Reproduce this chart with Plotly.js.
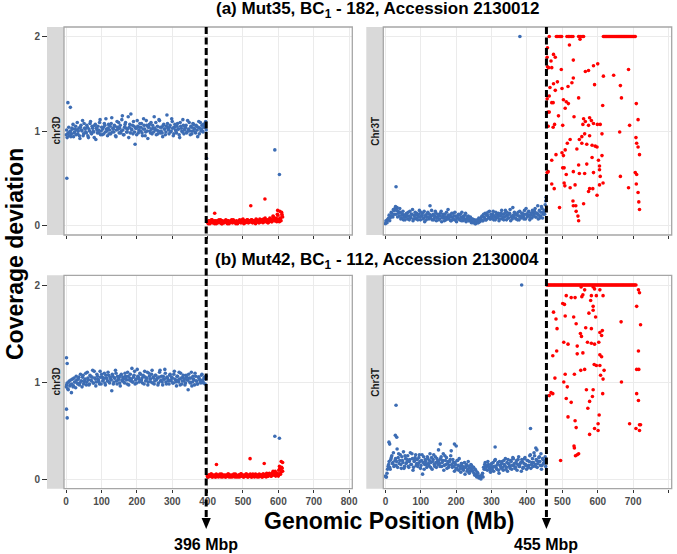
<!DOCTYPE html>
<html>
<head>
<meta charset="utf-8">
<script src="https://cdn.plot.ly/plotly-3.0.1.min.js"></script>
<style>
  html, body { margin: 0; padding: 0; background: #ffffff; }
  #chart { width: 677px; height: 554px; }
</style>
</head>
<body>
<div id="chart"></div>
<script>
// ---------------------------------------------------------------
// Coverage deviation along chromosome 3D (wheat) and 3T (Ae. mutica)
// for two BC1 lines. Bins are positions in Mb.
// ---------------------------------------------------------------

// translocation breakpoints (Mb)
const breakChr3D = 396;
const breakChr3T = 455;

// bin positions, chr3D, 0–396 Mb (two interleaved bin sets)
const binsChr3DLeft = [0,3,6,9,12,15,18,21,24,27,30,33,36,39,42,45,48,51,54,57,60,63,66,69,72,75,78,81,84,87,90,93,96,99,102,105,108,111,114,117,120,123,126,129,132,135,138,141,144,147,150,153,156,159,162,165,168,171,174,177,180,183,186,189,192,195,198,201,204,207,210,213,216,219,222,225,228,231,234,237,240,243,246,249,252,255,258,261,264,267,270,273,276,279,282,285,288,291,294,297,300,303,306,309,312,315,318,321,324,327,330,333,336,339,342,345,348,351,354,357,360,363,366,369,372,375,378,381,384,387,390,393,396];
const binsChr3DLeftB = [1.5,4.5,7.5,10.5,13.5,16.5,19.5,22.5,25.5,28.5,31.5,34.5,37.5,40.5,43.5,46.5,49.5,52.5,55.5,58.5,61.5,64.5,67.5,70.5,73.5,76.5,79.5,82.5,85.5,88.5,91.5,94.5,97.5,100.5,103.5,106.5,109.5,112.5,115.5,118.5,121.5,124.5,127.5,130.5,133.5,136.5,139.5,142.5,145.5,148.5,151.5,154.5,157.5,160.5,163.5,166.5,169.5,172.5,175.5,178.5,181.5,184.5,187.5,190.5,193.5,196.5,199.5,202.5,205.5,208.5,211.5,214.5,217.5,220.5,223.5,226.5,229.5,232.5,235.5,238.5,241.5,244.5,247.5,250.5,253.5,256.5,259.5,262.5,265.5,268.5,271.5,274.5,277.5,280.5,283.5,286.5,289.5,292.5,295.5,298.5,301.5,304.5,307.5,310.5,313.5,316.5,319.5,322.5,325.5,328.5,331.5,334.5,337.5,340.5,343.5,346.5,349.5,352.5,355.5,358.5,361.5,364.5,367.5,370.5,373.5,376.5,379.5,382.5,385.5,388.5,391.5,394.5];
// bin positions, chr3D, 399–612 Mb
const binsChr3DRight = [399,402,405,408,411,414,417,420,423,426,429,432,435,438,441,444,447,450,453,456,459,462,465,468,471,474,477,480,483,486,489,492,495,498,501,504,507,510,513,516,519,522,525,528,531,534,537,540,543,546,549,552,555,558,561,564,567,570,573,576,579,582,585,588,591,594,597,600,603,606,609,612];
const binsChr3DRightB = [400.5,403.5,406.5,409.5,412.5,415.5,418.5,421.5,424.5,427.5,430.5,433.5,436.5,439.5,442.5,445.5,448.5,451.5,454.5,457.5,460.5,463.5,466.5,469.5,472.5,475.5,478.5,481.5,484.5,487.5,490.5,493.5,496.5,499.5,502.5,505.5,508.5,511.5,514.5,517.5,520.5,523.5,526.5,529.5,532.5,535.5,538.5,541.5,544.5,547.5,550.5,553.5,556.5,559.5,562.5,565.5,568.5,571.5,574.5,577.5,580.5,583.5,586.5,589.5,592.5,595.5,598.5,601.5,604.5,607.5,610.5];
// bin positions, Chr3T, 0–453 Mb
const binsChr3TLeft = [0,3,6,9,12,15,18,21,24,27,30,33,36,39,42,45,48,51,54,57,60,63,66,69,72,75,78,81,84,87,90,93,96,99,102,105,108,111,114,117,120,123,126,129,132,135,138,141,144,147,150,153,156,159,162,165,168,171,174,177,180,183,186,189,192,195,198,201,204,207,210,213,216,219,222,225,228,231,234,237,240,243,246,249,252,255,258,261,264,267,270,273,276,279,282,285,288,291,294,297,300,303,306,309,312,315,318,321,324,327,330,333,336,339,342,345,348,351,354,357,360,363,366,369,372,375,378,381,384,387,390,393,396,399,402,405,408,411,414,417,420,423,426,429,432,435,438,441,444,447,450,453];
const binsChr3TLeftB = [1.5,4.5,7.5,10.5,13.5,16.5,19.5,22.5,25.5,28.5,31.5,34.5,37.5,40.5,43.5,46.5,49.5,52.5,55.5,58.5,61.5,64.5,67.5,70.5,73.5,76.5,79.5,82.5,85.5,88.5,91.5,94.5,97.5,100.5,103.5,106.5,109.5,112.5,115.5,118.5,121.5,124.5,127.5,130.5,133.5,136.5,139.5,142.5,145.5,148.5,151.5,154.5,157.5,160.5,163.5,166.5,169.5,172.5,175.5,178.5,181.5,184.5,187.5,190.5,193.5,196.5,199.5,202.5,205.5,208.5,211.5,214.5,217.5,220.5,223.5,226.5,229.5,232.5,235.5,238.5,241.5,244.5,247.5,250.5,253.5,256.5,259.5,262.5,265.5,268.5,271.5,274.5,277.5,280.5,283.5,286.5,289.5,292.5,295.5,298.5,301.5,304.5,307.5,310.5,313.5,316.5,319.5,322.5,325.5,328.5,331.5,334.5,337.5,340.5,343.5,346.5,349.5,352.5,355.5,358.5,361.5,364.5,367.5,370.5,373.5,376.5,379.5,382.5,385.5,388.5,391.5,394.5,397.5,400.5,403.5,406.5,409.5,412.5,415.5,418.5,421.5,424.5,427.5,430.5,433.5,436.5,439.5,442.5,445.5,448.5,451.5];

// ---------------- (a) Mut35 ----------------
const mut35Chr3DBlue = [0.96,0.93,0.98,0.95,1.00,0.97,1.02,0.94,0.99,1.05,1.01,0.97,1.03,0.92,1.06,1.00,0.95,1.08,1.02,0.98,1.04,0.93,1.00,1.10,0.97,1.03,0.99,1.06,0.91,1.01,1.05,0.98,1.12,1.00,0.96,1.04,1.08,0.99,1.02,0.95,1.07,1.01,0.97,1.14,1.03,0.99,1.05,0.94,1.10,1.02,0.98,1.06,1.00,1.16,0.96,1.04,1.09,0.99,1.02,0.93,1.07,1.18,1.01,0.97,1.05,0.86,1.03,1.11,0.98,1.04,1.00,1.08,0.95,1.13,1.02,0.99,1.06,0.92,1.04,1.00,1.09,0.97,1.03,1.15,1.01,0.96,1.05,1.00,1.11,0.98,1.04,0.94,1.07,1.02,0.99,1.17,1.03,0.97,1.06,1.00,1.10,0.95,1.04,1.01,0.98,1.08,1.02,0.93,1.05,1.00,1.12,0.97,1.03,1.06,0.99,1.01,1.09,0.96,1.04,1.00,1.07,1.02,0.98,1.05,0.94,1.10,1.03,1.00,1.06,0.99,1.04,1.08,1.01];
const mut35Chr3DBlueB = [1.01,0.97,1.04,0.99,0.94,1.03,1.07,0.98,1.02,0.96,1.09,1.00,0.95,1.04,1.01,1.11,0.97,1.03,0.99,1.06,0.95,1.02,1.08,0.98,1.05,1.00,0.93,1.07,1.03,0.98,1.01,1.09,0.96,1.04,1.02,0.97,1.06,1.13,1.00,1.03,0.97,1.05,1.08,0.99,1.02,1.06,0.95,1.01,1.04,1.09,1.03,0.98,1.12,1.01,0.96,1.07,1.03,0.99,1.15,1.04,0.98,1.02,1.06,1.10,0.99,1.03,0.96,1.05,1.01,1.08,1.04,0.98,1.02,1.06,0.95,1.11,1.00,1.04,1.07,0.98,1.02,1.06,0.99,1.03,1.09,1.01,0.97,1.12,1.04,1.00,0.98,1.06,1.02,0.96,1.05,1.08,1.01,1.04,0.99,1.13,1.03,0.97,1.07,1.00,1.05,1.02,0.96,1.09,1.03,0.99,1.06,1.01,1.04,0.98,1.11,1.02,1.00,1.05,0.97,1.08,1.03,0.99,1.06,1.01,1.04,0.97,1.09,1.02,1.00,1.07,1.04,1.10];
const mut35Chr3DBlueExtraX = [2,5,12,397,590,603];
const mut35Chr3DBlueExtraY = [0.50,1.30,1.25,0.71,0.80,0.54];
const mut35Chr3DRed = [0.04,0.02,0.05,0.03,0.06,0.03,0.04,0.02,0.05,0.03,0.04,0.06,0.03,0.05,0.02,0.04,0.03,0.05,0.04,0.02,0.05,0.03,0.04,0.06,0.03,0.05,0.04,0.02,0.04,0.03,0.05,0.04,0.03,0.06,0.04,0.05,0.03,0.04,0.06,0.03,0.05,0.04,0.06,0.03,0.05,0.04,0.07,0.04,0.05,0.03,0.06,0.04,0.05,0.07,0.04,0.06,0.05,0.03,0.06,0.08,0.05,0.04,0.10,0.06,0.05,0.08,0.12,0.06,0.04,0.07,0.14,0.09];
const mut35Chr3DRedB = [0.03,0.05,0.02,0.04,0.06,0.03,0.05,0.04,0.02,0.05,0.03,0.04,0.06,0.02,0.05,0.03,0.04,0.06,0.03,0.05,0.02,0.04,0.05,0.03,0.06,0.04,0.03,0.05,0.02,0.04,0.06,0.03,0.05,0.04,0.02,0.05,0.04,0.06,0.03,0.05,0.04,0.06,0.03,0.05,0.04,0.02,0.06,0.05,0.03,0.07,0.04,0.06,0.03,0.05,0.08,0.04,0.06,0.03,0.05,0.07,0.04,0.06,0.09,0.05,0.07,0.04,0.11,0.06,0.08,0.05,0.10];
const mut35Chr3DRedExtraX = [420,500,522,562,585,598,604,610];
const mut35Chr3DRedExtraY = [0.13,0.07,0.21,0.28,0.09,0.16,0.15,0.12];

const mut35Chr3TBlue = [0.02,0.04,0.06,0.08,0.05,0.10,0.13,0.09,0.16,0.18,0.12,0.19,0.15,0.10,0.14,0.08,0.12,0.06,0.11,0.09,0.13,0.07,0.10,0.15,0.08,0.12,0.05,0.10,0.14,0.07,0.11,0.09,0.16,0.06,0.10,0.13,0.08,0.04,0.11,0.09,0.14,0.07,0.21,0.10,0.06,0.12,0.08,0.15,0.05,0.09,0.11,0.07,0.13,0.04,0.10,0.08,0.12,0.06,0.09,0.17,0.07,0.11,0.05,0.09,0.13,0.06,0.10,0.04,0.08,0.12,0.06,0.09,0.14,0.05,0.08,0.11,0.04,0.07,0.10,0.05,0.09,0.03,0.07,0.04,0.06,0.02,0.05,0.03,0.08,0.04,0.07,0.10,0.05,0.09,0.13,0.06,0.11,0.08,0.15,0.07,0.10,0.12,0.06,0.09,0.14,0.08,0.11,0.05,0.10,0.13,0.07,0.12,0.09,0.16,0.06,0.11,0.08,0.13,0.05,0.10,0.19,0.09,0.12,0.07,0.11,0.14,0.06,0.10,0.08,0.13,0.09,0.16,0.07,0.12,0.10,0.15,0.06,0.11,0.08,0.14,0.12,0.18,0.09,0.13,0.07,0.16,0.10,0.20,0.08,0.14,0.12,0.26];
const mut35Chr3TBlueB = [0.05,0.03,0.07,0.11,0.08,0.14,0.10,0.17,0.12,0.20,0.16,0.09,0.13,0.18,0.07,0.11,0.15,0.09,0.06,0.12,0.10,0.14,0.06,0.09,0.12,0.17,0.07,0.11,0.08,0.13,0.06,0.12,0.09,0.14,0.11,0.07,0.15,0.10,0.06,0.13,0.09,0.12,0.08,0.16,0.11,0.06,0.10,0.13,0.08,0.12,0.06,0.10,0.15,0.08,0.12,0.05,0.09,0.14,0.07,0.11,0.09,0.05,0.13,0.07,0.10,0.14,0.06,0.09,0.11,0.07,0.12,0.05,0.08,0.10,0.06,0.13,0.07,0.09,0.05,0.08,0.05,0.07,0.03,0.05,0.02,0.04,0.06,0.03,0.05,0.07,0.09,0.05,0.12,0.08,0.06,0.11,0.14,0.09,0.07,0.12,0.08,0.15,0.10,0.06,0.12,0.09,0.13,0.07,0.11,0.16,0.09,0.06,0.13,0.10,0.14,0.08,0.12,0.17,0.09,0.07,0.11,0.14,0.08,0.12,0.06,0.10,0.15,0.09,0.13,0.11,0.07,0.12,0.18,0.09,0.14,0.11,0.08,0.13,0.16,0.10,0.15,0.09,0.13,0.21,0.11,0.08,0.14,0.18,0.12,0.16,0.22];
const mut35Chr3TBlueExtraX = [30,380,454];
const mut35Chr3TBlueExtraY = [0.41,2.00,0.30];
// bins at the coverage ceiling (2)
const mut35Chr3TCapX = [463,483,487,491,495,498,513,517,521,525,530,546,550,556,560,616,619,622,625,628,631,634,637,640,643,646,649,652,655,658,661,664,667,670,673,676,679,682,685,688,691,694,697,700,703,706];
const mut35Chr3TRedX = [458,475,480,468,461,470,520,531,497,588,600,574,565,616,687,645,531,527,516,486,475,465,499,480,591,664,503,511,517,546,667,463,470,474,508,614,709,463,489,533,560,577,565,582,558,574,588,599,607,478,474,501,690,714,662,612,708,710,714,718,555,563,577,548,522,514,569,584,593,598,541,555,508,503,482,499,470,584,612,546,569,602,501,505,548,563,588,605,605,531,607,511,664,706,710,460,470,505,507,536,577,586,605,615,477,522,687,709,714,598,574,560,530,531,538,492,718,539,544,546,716,457,458,457,459,457,460,550];
const mut35Chr3TRedY = [1.88,1.81,1.78,1.74,1.67,1.67,1.91,1.75,1.65,1.69,1.71,1.64,1.63,1.58,1.65,1.59,1.56,1.51,1.47,1.52,1.50,1.46,1.45,1.43,1.49,1.48,1.33,1.31,1.29,1.35,1.35,1.37,1.30,1.30,1.24,1.27,1.29,1.20,1.16,1.15,1.13,1.14,1.10,1.11,1.07,1.06,1.08,1.07,1.07,1.07,1.04,1.06,1.06,1.12,0.99,0.97,0.93,0.87,0.83,0.75,0.94,0.97,0.95,0.91,0.91,0.87,0.86,0.85,0.84,0.83,0.81,0.87,0.80,0.74,0.75,0.77,0.69,0.72,0.74,0.64,0.65,0.69,0.61,0.61,0.55,0.55,0.56,0.63,0.59,0.57,0.52,0.54,0.52,0.56,0.54,0.57,0.44,0.45,0.42,0.43,0.39,0.39,0.43,0.45,0.39,0.40,0.40,0.44,0.35,0.32,0.36,0.23,0.26,0.21,0.21,0.19,0.17,0.15,0.10,0.05,0.25,1.78,1.68,1.34,1.20,0.56,1.05,1.97];

// ---------------- (b) Mut42 ----------------
const mut42Chr3DBlue = [0.95,0.99,0.92,1.01,0.97,0.89,1.03,0.96,1.00,0.94,1.02,0.98,1.05,0.99,1.01,0.95,1.07,1.00,1.03,0.97,1.10,1.02,0.98,1.06,1.01,1.12,0.99,1.04,0.96,1.08,1.03,1.00,1.11,0.98,1.05,1.02,1.09,0.97,1.04,1.01,1.07,0.99,1.03,0.91,1.06,1.00,1.04,1.09,0.98,1.02,1.05,0.96,1.08,1.01,1.03,0.99,1.06,1.02,1.10,0.97,1.04,1.01,1.14,1.00,1.07,0.98,1.03,1.13,1.05,1.00,1.08,1.02,0.99,1.06,1.11,1.01,1.04,0.97,1.09,1.03,1.00,1.12,1.05,0.98,1.07,1.02,1.04,0.99,1.10,1.01,1.06,0.97,1.03,1.13,1.00,1.05,1.02,0.98,1.08,1.01,1.04,0.99,1.11,1.02,0.96,1.06,1.00,1.03,1.09,0.98,1.05,1.01,0.97,1.07,1.02,0.92,1.04,0.99,1.10,1.00,1.03,0.97,1.06,1.01,0.98,1.05,1.02,0.99,1.08,1.00,1.04,0.98,1.06];
const mut42Chr3DBlueB = [0.97,0.93,1.00,0.96,1.02,0.98,0.95,1.04,1.00,1.06,0.99,1.03,0.97,1.08,1.01,1.05,0.98,1.02,1.09,1.00,1.04,0.97,1.07,1.02,1.05,0.99,1.11,1.03,1.00,1.06,1.02,0.98,1.05,1.08,1.01,1.04,0.99,1.07,1.03,1.10,1.00,1.05,1.02,1.08,0.98,1.04,1.12,1.01,1.06,1.03,0.99,1.07,1.02,1.05,1.00,1.09,1.04,0.98,1.06,1.02,1.08,1.03,1.00,1.05,1.11,1.02,0.99,1.06,1.03,1.09,1.01,1.04,1.07,0.98,1.05,1.02,1.10,1.00,1.06,1.03,1.08,0.99,1.04,1.01,1.07,1.03,0.97,1.05,1.12,1.02,1.00,1.06,1.03,1.09,0.98,1.04,1.01,1.07,1.02,1.05,0.99,1.08,1.03,1.00,1.06,1.02,1.10,0.97,1.04,1.01,1.07,1.03,0.99,1.05,1.02,1.08,1.00,1.04,0.96,1.06,1.02,1.09,1.01,0.98,1.05,1.03,1.00,1.07,1.02,0.99,1.05,1.03];
const mut42Chr3DBlueExtraX = [1,3,1,3,590,603];
const mut42Chr3DBlueExtraY = [1.25,1.19,0.72,0.63,0.44,0.42];
const mut42Chr3DRed = [0.03,0.02,0.04,0.03,0.05,0.02,0.03,0.04,0.02,0.03,0.04,0.03,0.05,0.02,0.03,0.04,0.03,0.02,0.04,0.03,0.05,0.03,0.02,0.04,0.03,0.05,0.02,0.04,0.03,0.02,0.04,0.03,0.05,0.03,0.02,0.04,0.03,0.05,0.02,0.04,0.03,0.04,0.02,0.05,0.03,0.04,0.03,0.02,0.04,0.05,0.03,0.04,0.02,0.05,0.03,0.04,0.06,0.03,0.05,0.04,0.03,0.06,0.04,0.05,0.08,0.04,0.06,0.03,0.10,0.05,0.12,0.08];
const mut42Chr3DRedB = [0.02,0.04,0.03,0.05,0.02,0.04,0.03,0.02,0.05,0.03,0.02,0.04,0.03,0.05,0.02,0.03,0.04,0.02,0.03,0.05,0.02,0.04,0.03,0.02,0.04,0.03,0.05,0.02,0.03,0.04,0.02,0.05,0.03,0.04,0.02,0.03,0.05,0.04,0.02,0.03,0.05,0.02,0.04,0.03,0.02,0.05,0.03,0.04,0.02,0.03,0.04,0.02,0.05,0.03,0.04,0.02,0.05,0.03,0.06,0.04,0.03,0.05,0.07,0.04,0.03,0.06,0.04,0.09,0.05,0.07,0.11];
const mut42Chr3DRedExtraX = [425,495,520,560,585,603,605,608,612];
const mut42Chr3DRedExtraY = [0.15,0.05,0.21,0.16,0.08,0.13,0.10,0.18,0.17];

const mut42Chr3TBlue = [0.03,0.02,0.10,0.15,0.12,0.20,0.24,0.17,0.13,0.19,0.14,0.31,0.22,0.16,0.25,0.11,0.19,0.28,0.13,0.21,0.17,0.24,0.12,0.20,0.15,0.26,0.09,0.18,0.22,0.14,0.20,0.16,0.25,0.11,0.19,0.05,0.23,0.15,0.18,0.12,0.21,0.14,0.26,0.17,0.10,0.20,0.15,0.23,0.12,0.18,0.30,0.16,0.21,0.13,0.19,0.09,0.24,0.15,0.11,0.18,0.14,0.20,0.29,0.12,0.17,0.08,0.15,0.11,0.19,0.09,0.13,0.07,0.16,0.10,0.12,0.05,0.14,0.08,0.18,0.06,0.11,0.14,0.08,0.12,0.04,0.09,0.02,0.06,0.01,0.03,0.00,0.04,0.02,0.10,0.17,0.13,0.09,0.15,0.11,0.07,0.16,0.12,0.08,0.19,0.13,0.10,0.17,0.06,0.14,0.11,0.18,0.09,0.15,0.21,0.12,0.08,0.16,0.13,0.19,0.10,0.22,0.14,0.11,0.17,0.09,0.20,0.13,0.16,0.08,0.18,0.12,0.21,0.15,0.10,0.19,0.14,0.24,0.11,0.17,0.13,0.27,0.15,0.20,0.12,0.18,0.23,0.14,0.10,0.21,0.16,0.19,0.13];
const mut42Chr3TBlueB = [0.02,0.06,0.13,0.18,0.10,0.22,0.16,0.27,0.14,0.21,0.18,0.12,0.26,0.19,0.15,0.23,0.17,0.11,0.24,0.16,0.20,0.13,0.18,0.27,0.15,0.21,0.12,0.19,0.25,0.16,0.13,0.22,0.18,0.14,0.25,0.17,0.10,0.20,0.15,0.23,0.16,0.19,0.12,0.22,0.18,0.25,0.13,0.17,0.21,0.15,0.19,0.13,0.23,0.17,0.26,0.14,0.19,0.22,0.16,0.12,0.18,0.24,0.15,0.20,0.13,0.17,0.10,0.19,0.14,0.21,0.11,0.16,0.13,0.09,0.17,0.12,0.15,0.10,0.13,0.08,0.15,0.09,0.12,0.06,0.10,0.04,0.07,0.03,0.02,0.01,0.03,0.06,0.12,0.15,0.10,0.14,0.18,0.12,0.09,0.14,0.10,0.17,0.13,0.20,0.11,0.15,0.09,0.18,0.13,0.16,0.12,0.19,0.14,0.10,0.17,0.20,0.15,0.11,0.18,0.14,0.21,0.16,0.12,0.19,0.15,0.23,0.13,0.17,0.20,0.11,0.16,0.22,0.14,0.19,0.12,0.18,0.25,0.15,0.21,0.17,0.24,0.13,0.19,0.16,0.22,0.18,0.26,0.14,0.20,0.17,0.23];
const mut42Chr3TBlueExtraX = [10,12,28,30,32,155,195,200,310,385,410,425,428];
const mut42Chr3TBlueExtraY = [0.38,0.36,0.45,0.76,0.43,0.36,0.36,0.34,0.33,2.00,0.52,0.32,0.30];
// bins at the coverage ceiling (2)
const mut42Chr3TCapX = [456,459,462,465,468,471,474,477,480,483,486,489,492,495,498,501,504,507,510,513,516,519,522,525,528,531,534,537,540,543,546,549,552,555,558,561,564,567,570,573,576,579,582,585,588,591,594,597,600,603,606,609,612,615,618,621,624,627,630,633,636,639,642,645,648,651,654,657,660,663,666,669,672,675,678,681,684,687,690,693,696,699,702,705,708];
const mut42Chr3TRedX = [553,563,587,591,606,715,718,511,525,536,555,558,582,596,615,580,501,506,710,587,587,475,575,508,532,594,482,666,539,566,582,485,551,554,606,613,611,721,504,516,542,571,582,591,603,542,558,473,484,606,611,715,590,563,552,596,606,618,608,710,716,508,534,479,615,504,667,514,568,587,473,463,614,710,585,577,511,525,715,572,604,516,536,690,718,721,601,539,591,601,708,718,577,533,534,537,542,546,495,468];
const mut42Chr3TRedY = [1.98,1.95,1.98,1.96,1.95,1.95,1.92,1.89,1.87,1.87,1.88,1.90,1.89,1.89,1.89,1.84,1.81,1.80,1.78,1.78,1.74,1.72,1.71,1.68,1.67,1.67,1.65,1.62,1.60,1.56,1.55,1.55,1.50,1.47,1.51,1.53,1.48,1.59,1.41,1.39,1.37,1.41,1.40,1.39,1.41,1.29,1.30,1.27,1.32,1.28,1.26,1.32,1.18,1.13,1.12,1.17,1.17,1.12,1.07,1.13,1.13,1.08,1.08,1.04,1.03,1.00,1.00,0.95,0.92,0.92,0.88,0.86,0.88,0.88,0.85,0.80,0.83,0.79,0.81,0.73,0.66,0.64,0.60,0.57,0.56,0.56,0.57,0.53,0.52,0.50,0.52,0.50,0.46,0.34,0.32,0.24,0.25,0.26,0.19,0.89];

// strip labels, panel titles and ticks
const stripLeft = 'chr3D';
const stripRight = 'Chr3T';
const titleA = '(a) Mut35, BC<sub>1</sub> - 182, Accession 2130012';
const titleB = '(b) Mut42, BC<sub>1</sub> - 112, Accession 2130004';
const xTickVals = [0,100,200,300,400,500,600,700,800];
const yTickVals = [0,1,2];

// ---------------------------------------------------------------
const W = 677, H = 554;
const px = v => v / W;
const py = v => 1 - v / H;

const BLUE = '#3d6db4';
const RED = '#ff0000';
const FONT = 'Liberation Sans, Arial, sans-serif';

const colL = [64, 352.3], colR = [383.3, 671.7];
const rowT = [27, 235], rowB = [275.3, 488.7];
const stripW = 17;

function pts(x, y, color, xa, ya) {
  return {
    type: 'scatter', mode: 'markers', x: x, y: y,
    xaxis: xa, yaxis: ya, hoverinfo: 'skip', cliponaxis: false,
    marker: { size: 3.6, color: color, line: { width: 0 } }
  };
}
const capY = arr => arr.map(() => 2);
const cat = (...arrs) => [].concat(...arrs);

const traces = [
  // (a) chr3D
  pts(cat(binsChr3DRight, binsChr3DRightB, mut35Chr3DRedExtraX), cat(mut35Chr3DRed, mut35Chr3DRedB, mut35Chr3DRedExtraY), RED, 'x', 'y'),
  pts(cat(binsChr3DLeft, binsChr3DLeftB, mut35Chr3DBlueExtraX), cat(mut35Chr3DBlue, mut35Chr3DBlueB, mut35Chr3DBlueExtraY), BLUE, 'x', 'y'),
  // (a) Chr3T
  pts(cat(mut35Chr3TRedX, mut35Chr3TCapX), cat(mut35Chr3TRedY, capY(mut35Chr3TCapX)), RED, 'x2', 'y2'),
  pts(cat(binsChr3TLeft, binsChr3TLeftB, mut35Chr3TBlueExtraX), cat(mut35Chr3TBlue, mut35Chr3TBlueB, mut35Chr3TBlueExtraY), BLUE, 'x2', 'y2'),
  // (b) chr3D
  pts(cat(binsChr3DRight, binsChr3DRightB, mut42Chr3DRedExtraX), cat(mut42Chr3DRed, mut42Chr3DRedB, mut42Chr3DRedExtraY), RED, 'x3', 'y3'),
  pts(cat(binsChr3DLeft, binsChr3DLeftB, mut42Chr3DBlueExtraX), cat(mut42Chr3DBlue, mut42Chr3DBlueB, mut42Chr3DBlueExtraY), BLUE, 'x3', 'y3'),
  // (b) Chr3T
  pts(cat(mut42Chr3TRedX, mut42Chr3TCapX), cat(mut42Chr3TRedY, capY(mut42Chr3TCapX)), RED, 'x4', 'y4'),
  pts(cat(binsChr3TLeft, binsChr3TLeftB, mut42Chr3TBlueExtraX), cat(mut42Chr3TBlue, mut42Chr3TBlueB, mut42Chr3TBlueExtraY), BLUE, 'x4', 'y4')
];

const tickFont = { family: FONT, size: 10, color: '#4d4d4d', weight: 700 };

function xAxis(col, anchor, labels) {
  return {
    domain: [px(col[0]), px(col[1])], anchor: anchor,
    range: [-6, 809], tickvals: xTickVals, showticklabels: labels,
    ticks: 'outside', ticklen: 3, tickwidth: 1, tickcolor: '#333333',
    showgrid: true, gridcolor: '#ebebeb', gridwidth: 1,
    zeroline: false, showline: false, tickfont: tickFont, fixedrange: true
  };
}
function yAxis(row, anchor, labels) {
  return {
    domain: [py(row[1]), py(row[0])], anchor: anchor,
    range: [-0.1, 2.1], tickvals: yTickVals, showticklabels: labels,
    ticks: labels ? 'outside' : '', ticklen: stripW + 4, tickwidth: 1, tickcolor: '#333333',
    showgrid: true, gridcolor: '#ebebeb', gridwidth: 1,
    zeroline: false, showline: false, tickfont: tickFont, fixedrange: true
  };
}

const shapes = [];
const annotations = [];

// panel frames and strips
[[colL, rowT, 'x', 'y', stripLeft], [colR, rowT, 'x2', 'y2', stripRight],
 [colL, rowB, 'x3', 'y3', stripLeft], [colR, rowB, 'x4', 'y4', stripRight]].forEach(p => {
  const [col, row, xa, ya, label] = p;
  shapes.push({
    type: 'rect', xref: 'paper', yref: 'paper', layer: 'above',
    x0: px(col[0] - stripW), x1: px(col[0]), y0: py(row[1]), y1: py(row[0]),
    fillcolor: '#d9d9d9', line: { width: 0 }
  });
  shapes.push({
    type: 'rect', xref: xa + ' domain', yref: ya + ' domain', layer: 'above',
    x0: 0, x1: 1, y0: 0, y1: 1, line: { color: '#a6a6a6', width: 1.3 }
  });
  annotations.push({
    xref: 'paper', yref: 'paper', x: px(col[0] - stripW / 2), y: py((row[0] + row[1]) / 2),
    text: label, showarrow: false, textangle: -90,
    font: { family: FONT, size: 10, color: '#1a1a1a', weight: 700 },
    xanchor: 'center', yanchor: 'middle'
  });
});

// breakpoint markers: dashed line through both rows, arrow head and label
[[breakChr3D, 'x'], [breakChr3T, 'x2']].forEach(b => {
  const [pos, xa] = b;
  const half = 4.6 / ((colL[1] - colL[0]) / 815);
  shapes.push({
    type: 'line', xref: xa, yref: 'paper', layer: 'above',
    x0: pos, x1: pos, y0: py(rowT[0]), y1: py(519),
    line: { color: '#000000', width: 3, dash: '7px,3.5px' }
  });
  shapes.push({
    type: 'path', xref: xa, yref: 'paper', layer: 'above',
    path: `M ${pos - half},${py(518)} L ${pos + half},${py(518)} L ${pos},${py(529)} Z`,
    fillcolor: '#000000', line: { width: 0 }
  });
  annotations.push({
    xref: xa, yref: 'paper', x: pos, y: py(544),
    text: `<b>${pos} Mbp</b>`, showarrow: false,
    font: { family: FONT, size: 16, color: '#000000' },
    xanchor: 'center', yanchor: 'middle'
  });
});

// row titles and axis titles
annotations.push(
  { xref: 'paper', yref: 'paper', x: px(377), y: py(10), text: `<b>${titleA}</b>`,
    showarrow: false, font: { family: FONT, size: 17, color: '#000000' }, xanchor: 'center', yanchor: 'middle' },
  { xref: 'paper', yref: 'paper', x: px(377), y: py(261), text: `<b>${titleB}</b>`,
    showarrow: false, font: { family: FONT, size: 17, color: '#000000' }, xanchor: 'center', yanchor: 'middle' },
  { xref: 'paper', yref: 'paper', x: px(15), y: py(254), text: '<b>Coverage deviation</b>',
    showarrow: false, textangle: -90, font: { family: FONT, size: 23, color: '#000000' }, xanchor: 'center', yanchor: 'middle' },
  { xref: 'paper', yref: 'paper', x: px(389), y: py(521), text: '<b>Genomic Position (Mb)</b>',
    showarrow: false, font: { family: FONT, size: 23, color: '#000000' }, xanchor: 'center', yanchor: 'middle' }
);

const layout = {
  width: W, height: H,
  margin: { l: 0, r: 0, t: 0, b: 0 },
  paper_bgcolor: '#ffffff', plot_bgcolor: '#ffffff',
  showlegend: false,
  font: { family: FONT },
  xaxis: xAxis(colL, 'y', false),
  xaxis2: xAxis(colR, 'y2', false),
  xaxis3: xAxis(colL, 'y3', true),
  xaxis4: xAxis(colR, 'y4', true),
  yaxis: yAxis(rowT, 'x', true),
  yaxis2: yAxis(rowT, 'x2', false),
  yaxis3: yAxis(rowB, 'x3', true),
  yaxis4: yAxis(rowB, 'x4', false),
  shapes: shapes,
  annotations: annotations
};

Plotly.newPlot('chart', traces, layout, { displayModeBar: false, staticPlot: true });
</script>
</body>
</html>
